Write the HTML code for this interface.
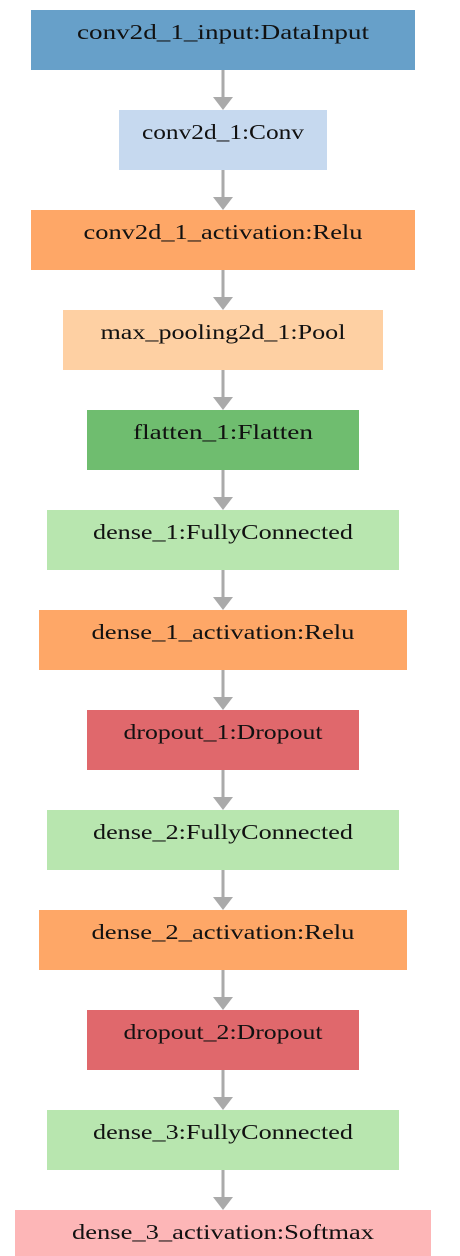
<!DOCTYPE html>
<html><head><style>
html,body{margin:0;padding:0;background:#fff;width:460px;height:1256px;overflow:hidden}
text{font-family:"Liberation Serif",serif;font-size:21px;fill:#111;text-anchor:middle}
</style></head><body>
<svg width="460" height="1256" xmlns="http://www.w3.org/2000/svg">
<g fill="#aaa" stroke="none">
<g id="a">
<rect x="221.5" y="70" width="3" height="28"/>
<polygon points="213,97 233,97 223,110"/>
</g>
<use href="#a" y="100"/><use href="#a" y="200"/><use href="#a" y="300"/><use href="#a" y="400"/>
<use href="#a" y="500"/><use href="#a" y="600"/><use href="#a" y="700"/><use href="#a" y="800"/>
<use href="#a" y="900"/><use href="#a" y="1000"/><use href="#a" y="1100"/>
</g>
<rect x="31" y="10" width="384" height="60" fill="#67a0c9"/>
<text x="223" y="39" textLength="292" lengthAdjust="spacingAndGlyphs">conv2d_1_input:DataInput</text>
<rect x="119" y="110" width="208" height="60" fill="#c6d9ef"/>
<text x="223" y="139" textLength="162" lengthAdjust="spacingAndGlyphs">conv2d_1:Conv</text>
<rect x="31" y="210" width="384" height="60" fill="#fea767"/>
<text x="223" y="239" textLength="279" lengthAdjust="spacingAndGlyphs">conv2d_1_activation:Relu</text>
<rect x="63" y="310" width="320" height="60" fill="#fed0a3"/>
<text x="223" y="339" textLength="245" lengthAdjust="spacingAndGlyphs">max_pooling2d_1:Pool</text>
<rect x="87" y="410" width="272" height="60" fill="#6fbd6f"/>
<text x="223" y="439" textLength="180" lengthAdjust="spacingAndGlyphs">flatten_1:Flatten</text>
<rect x="47" y="510" width="352" height="60" fill="#b8e6af"/>
<text x="223" y="539" textLength="260" lengthAdjust="spacingAndGlyphs">dense_1:FullyConnected</text>
<rect x="39" y="610" width="368" height="60" fill="#fea767"/>
<text x="223" y="639" textLength="263" lengthAdjust="spacingAndGlyphs">dense_1_activation:Relu</text>
<rect x="87" y="710" width="272" height="60" fill="#e0686c"/>
<text x="223" y="739" textLength="199" lengthAdjust="spacingAndGlyphs">dropout_1:Dropout</text>
<rect x="47" y="810" width="352" height="60" fill="#b8e6af"/>
<text x="223" y="839" textLength="260" lengthAdjust="spacingAndGlyphs">dense_2:FullyConnected</text>
<rect x="39" y="910" width="368" height="60" fill="#fea767"/>
<text x="223" y="939" textLength="263" lengthAdjust="spacingAndGlyphs">dense_2_activation:Relu</text>
<rect x="87" y="1010" width="272" height="60" fill="#e0686c"/>
<text x="223" y="1039" textLength="199" lengthAdjust="spacingAndGlyphs">dropout_2:Dropout</text>
<rect x="47" y="1110" width="352" height="60" fill="#b8e6af"/>
<text x="223" y="1139" textLength="260" lengthAdjust="spacingAndGlyphs">dense_3:FullyConnected</text>
<rect x="15" y="1210" width="416" height="60" fill="#fdb6b7"/>
<text x="223" y="1239" textLength="302" lengthAdjust="spacingAndGlyphs">dense_3_activation:Softmax</text>
</svg>
</body></html>
